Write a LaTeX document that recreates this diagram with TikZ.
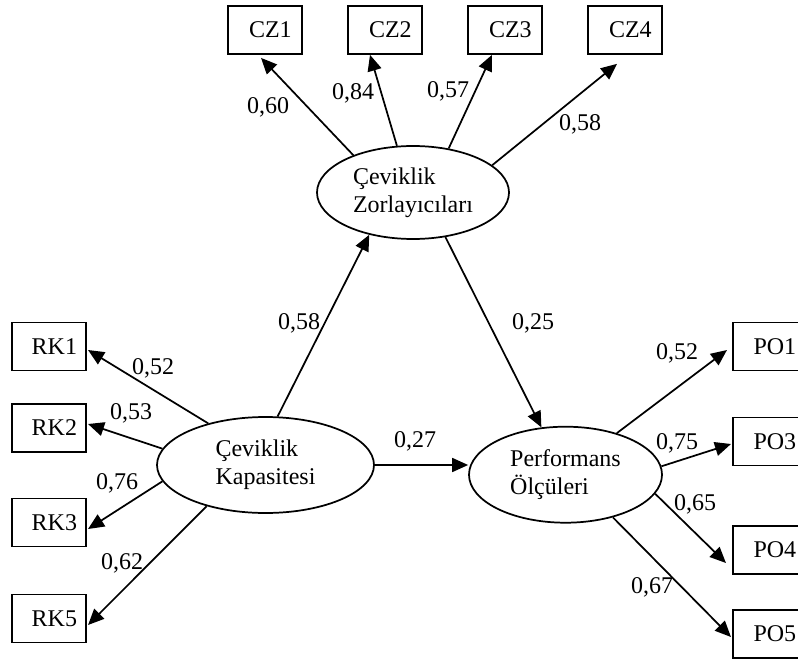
\documentclass[tikz,border=0pt]{standalone}
\usepackage{fontspec}
\setmainfont{Liberation Serif}
\usetikzlibrary{arrows.meta,shapes.geometric,calc}

\begin{document}
\begin{tikzpicture}[
    x=0.75pt, y=-0.75pt,
    font=\fontsize{18}{21}\selectfont,
    line width=1.3pt,
    ind/.style={draw, rectangle, minimum width=55pt, minimum height=36pt, inner sep=0pt, execute at begin node=\hspace*{8pt}},
    lat/.style={draw, ellipse, align=left, inner sep=0pt},
    lbl/.style={inner sep=0pt},
    arr/.style={-{Triangle[length=12pt, width=10.5pt]}},
  ]
    \useasboundingbox (0,0) rectangle (798,659);
    \clip (0,0) rectangle (798,659);
    % Indicators
    \node[ind] (cz1) at (265,30) {CZ1};
    \node[ind] (cz2) at (385,30) {CZ2};
    \node[ind] (cz3) at (505,30) {CZ3};
    \node[ind] (cz4) at (625,30) {CZ4};
    \node[ind] (rk1) at (49,346.5) {RK1};
    \node[ind] (rk2) at (49,428) {RK2};
    \node[ind] (rk3) at (49,522.5) {RK3};
    \node[ind] (rk5) at (49,618.5) {RK5};
    \node[ind] (po1) at (769.5,346.5) {PO1};
    \node[ind] (po3) at (769.5,441.5) {PO3};
    \node[ind] (po4) at (769.5,550) {PO4};
    \node[ind] (po5) at (769.5,634) {PO5};
    % Latent variables
    \node[lat, minimum width=144pt, minimum height=69.75pt] (czo) at (413,192.5) {Çeviklik\\Zorlayıcıları};
    \node[lat, minimum width=162.75pt, minimum height=72pt] (kap) at (265.5,465) {Çeviklik\\Kapasitesi};
    \node[lat, minimum width=144.75pt, minimum height=72pt] (perf) at (565.5,474.7) {Performans\\Ölçüleri};

    % Edges
    \draw[arr] (czo.148.9) -- ($(cz1.south)+(-4,3)$);
    \draw[arr] (czo.109.7) -- ($(cz2.south)+(-15,0)$);
    \draw[arr] (czo.51.8) -- ($(cz3.south)+(-13,0)$);
    \draw[arr] (czo.19.9) -- ($(cz4.south)+(-8,9)$);
    \draw[arr] (kap.144.4) -- ($(rk1.east)+(1.5,3.5)$);
    \draw[arr] (kap.171) -- ($(rk2.east)+(1.5,-4)$);
    \draw[arr] (kap.189.5) -- ($(rk3.east)+(1.5,6.5)$);
    \draw[arr] (kap.215) -- ($(rk5.east)+(1.5,6.5)$);
    \draw[arr] (perf.39) -- ($(po1.west)+(-5,3.5)$);
    \draw[arr] (perf.5.4) -- ($(po3.west)+(-1,2.5)$);
    \draw[arr] (perf.-12.5) -- ($(po4.west)+(-6,13)$);
    \draw[arr] (perf.-42) -- ($(po5.west)+(-1,3)$);
    \draw[arr] (kap.76) -- (czo.224);
    \draw[arr] (czo.-54) -- (perf.117.5);
    \draw[arr] (kap.east) -- (kap.east -| perf.west);

    % Loadings
    \node[lbl] (l60) at (268,107) {0,60};
    \node[lbl] (l84) at (353,93) {0,84};
    \node[lbl] (l57) at (448,91) {0,57};
    \node[lbl] (l58a) at (580,124) {0,58};
    \node[lbl] (l58b) at (299,323) {0,58};
    \node[lbl] (l25) at (533,323) {0,25};
    \node[lbl] (l27) at (415,441) {0,27};
    \node[lbl] (l52a) at (153,368) {0,52};
    \node[lbl] (l53) at (131,413) {0,53};
    \node[lbl] (l76) at (117,483) {0,76};
    \node[lbl] (l62) at (122,563) {0,62};
    \node[lbl] (l52b) at (677,353) {0,52};
    \node[lbl] (l75) at (677,443) {0,75};
    \node[lbl] (l65) at (695,504) {0,65};
    \node[lbl] (l67) at (652,587) {0,67};
  \end{tikzpicture}
\end{document}
